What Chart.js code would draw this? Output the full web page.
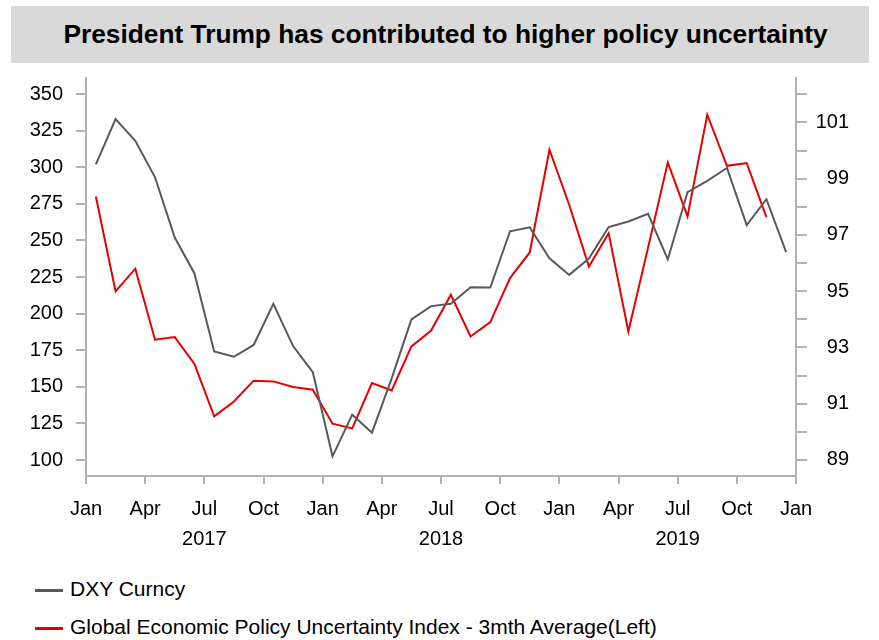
<!DOCTYPE html>
<html>
<head>
<meta charset="utf-8">
<script src="https://cdn.jsdelivr.net/npm/chart.js@4.4.0/dist/chart.umd.min.js"></script>
<style>
  body { margin: 0; width: 879px; height: 640px; background: #fff; position: relative; overflow: hidden;
         font-family: 'Liberation Sans', Arial, sans-serif; color: #000; }
  #title { position: absolute; left: 11px; top: 6px; width: 858px; height: 57px; background: #d9d9d9;
           font-weight: bold; font-size: 26.3px; text-align: center; line-height: 57px;
           box-sizing: border-box; padding-left: 11px; }
  #wrap { position: absolute; left: 0; top: 62px; width: 879px; height: 490px; }
  .leg { position: absolute; left: 35px; font-size: 21px; height: 24px; line-height: 24px; white-space: nowrap; }
  .leg span { display: inline-block; width: 28px; height: 3px; vertical-align: middle; margin-right: 7px; }
</style>
</head>
<body>
<div id="title">President Trump has contributed to higher policy uncertainty</div>
<div id="wrap"><canvas id="chart"></canvas></div>
<div class="leg" style="top:577px"><span style="background:#595959"></span>DXY Curncy</div>
<div class="leg" style="top:615px"><span style="background:#e60000"></span>Global Economic Policy Uncertainty Index - 3mth Average(Left)</div>
<script>
// 月（2017/01〜2019/12）
const months = [
  '2017-01','2017-02','2017-03','2017-04','2017-05','2017-06','2017-07','2017-08','2017-09','2017-10','2017-11','2017-12',
  '2018-01','2018-02','2018-03','2018-04','2018-05','2018-06','2018-07','2018-08','2018-09','2018-10','2018-11','2018-12',
  '2019-01','2019-02','2019-03','2019-04','2019-05','2019-06','2019-07','2019-08','2019-09','2019-10','2019-11','2019-12'
];

// DXY（右軸）
const dxy = [99.51, 101.12, 100.35, 99.05, 96.91, 95.63, 92.86, 92.67, 93.09, 94.55, 93.05, 92.12,
             89.13, 90.61, 89.97, 91.9, 94.0, 94.47, 94.55, 95.14, 95.13, 97.13, 97.27, 96.17,
             95.58, 96.16, 97.28, 97.48, 97.75, 96.13, 98.52, 98.92, 99.38, 97.35, 98.27, 96.39];

// 世界経済政策不確実性指数 3ヶ月平均（左軸）
const epu = [280.0, 215.2, 230.7, 182.2, 184.0, 165.6, 129.8, 140.0, 154.2, 153.7, 149.9, 148.0,
             124.8, 121.6, 152.6, 147.5, 177.6, 188.5, 212.9, 184.4, 194.2, 224.3, 241.8, 312.0,
             274.4, 232.2, 255.0, 187.8, 245.1, 303.3, 266.4, 335.9, 301.0, 302.9, 266.0];

// 軸ラベル
const monthTickNames = ['Jan', 'Apr', 'Jul', 'Oct'];
const yearLabels = ['2017', '2018', '2019'];
const leftTicks = [100, 125, 150, 175, 200, 225, 250, 275, 300, 325, 350];
const rightTicks = [89, 90, 91, 92, 93, 94, 95, 96, 97, 98, 99, 100, 101, 102];

const AXIS = '#b3b3b3';
const FONT = { family: "'Liberation Sans', Arial, sans-serif", size: 20 };

// 月の中央に点を置く
const toPoints = arr => arr.map((v, i) => ({ x: i + 0.5, y: v }));

const xTickValues = [];
for (let m = 0; m <= months.length; m += 3) xTickValues.push(m);

// 軸の大きさを固定（自動パディングを消す）
const fixY = w => s => { s.width = w; s.paddingTop = 0; s.paddingBottom = 0; };

new Chart(document.getElementById('chart'), {
  type: 'line',
  data: {
    datasets: [{
      label: 'DXY Curncy',
      data: toPoints(dxy),
      yAxisID: 'yR',
      borderColor: '#595959',
      borderWidth: 2,
      pointRadius: 0,
      tension: 0
    }, {
      label: 'Global Economic Policy Uncertainty Index - 3mth Average(Left)',
      data: toPoints(epu),
      yAxisID: 'yL',
      borderColor: '#e60000',
      borderWidth: 2,
      pointRadius: 0,
      tension: 0
    }]
  },
  options: {
    responsive: true,
    maintainAspectRatio: false,
    animation: false,
    layout: { padding: { top: 16, left: 0, right: 30, bottom: 0 } },
    plugins: { legend: { display: false }, tooltip: { enabled: false } },
    scales: {
      x: {
        type: 'linear',
        min: 0,
        max: months.length,
        afterBuildTicks: s => { s.ticks = xTickValues.map(v => ({ value: v })); },
        afterFit: s => { s.height = 76; s.paddingLeft = 0; s.paddingRight = 0; },
        ticks: {
          autoSkip: false,
          maxRotation: 0,
          color: '#000',
          font: { ...FONT, lineHeight: 1.5 },
          padding: 10,
          callback: v => {
            const name = monthTickNames[(v / 3) % 4];
            if (name === 'Jul') return [name, yearLabels[Math.floor(v / 12)]];
            return name;
          }
        },
        grid: { drawOnChartArea: false, drawTicks: true, tickLength: 8, color: AXIS, lineWidth: 2 },
        border: { color: AXIS, width: 2 }
      },
      yL: {
        position: 'left',
        min: 89.07,
        max: 361,
        afterBuildTicks: s => { s.ticks = leftTicks.map(v => ({ value: v })); },
        afterFit: fixY(86),
        ticks: { color: '#000', font: FONT, padding: 13 },
        grid: { drawOnChartArea: false, drawTicks: true, tickLength: 10, color: AXIS, lineWidth: 2 },
        border: { color: AXIS, width: 2 }
      },
      yR: {
        position: 'right',
        min: 88.43,
        max: 102.58,
        afterBuildTicks: s => { s.ticks = rightTicks.map(v => ({ value: v })); },
        afterFit: fixY(53),
        ticks: {
          color: '#000', font: FONT, padding: 9, crossAlign: 'far',
          callback: v => (v % 2 === 1 ? v : '')
        },
        grid: { drawOnChartArea: false, drawTicks: true, tickLength: 11, color: AXIS, lineWidth: 2 },
        border: { color: AXIS, width: 2 }
      }
    }
  }
});
</script>
</body>
</html>
